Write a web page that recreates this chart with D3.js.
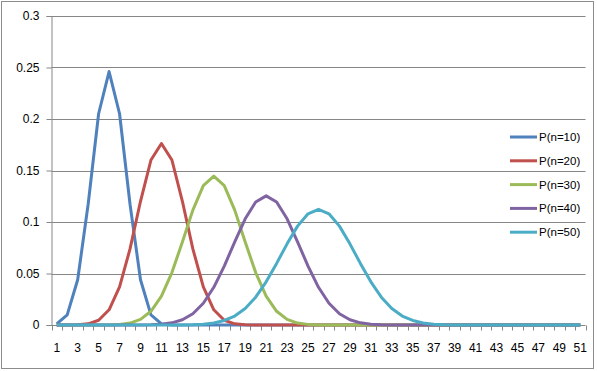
<!DOCTYPE html>
<html>
<head>
<meta charset="utf-8">
<script src="https://cdn.jsdelivr.net/npm/d3@7"></script>
<style>
  body { margin: 0; background: #fff; }
  text { font-family: "Liberation Sans", Arial, sans-serif; font-size: 12px; fill: #000; }
</style>
</head>
<body>
<script>
// categories 1..51
const categories = d3.range(1, 52).map(String);

// series values
const p10 = [0.001, 0.0098, 0.0439, 0.1172, 0.2051, 0.2461, 0.2051, 0.1172, 0.0439, 0.0098, 0.001,
  0, 0, 0, 0, 0, 0, 0, 0, 0, 0, 0, 0, 0, 0, 0, 0, 0, 0, 0, 0, 0, 0, 0, 0, 0, 0, 0, 0, 0, 0,
  0, 0, 0, 0, 0, 0, 0, 0, 0, 0];
const p20 = [0, 0, 0.0002, 0.0011, 0.0046, 0.0148, 0.037, 0.0739, 0.1201, 0.1602, 0.1762,
  0.1602, 0.1201, 0.0739, 0.037, 0.0148, 0.0046, 0.0011, 0.0002, 0, 0,
  0, 0, 0, 0, 0, 0, 0, 0, 0, 0, 0, 0, 0, 0, 0, 0, 0, 0, 0, 0, 0, 0, 0, 0, 0, 0, 0, 0, 0, 0];
const p30 = [0, 0, 0, 0, 0, 0.0001, 0.0006, 0.0019, 0.0055, 0.0133, 0.028, 0.0509, 0.0806, 0.1115, 0.1354,
  0.1445, 0.1354, 0.1115, 0.0806, 0.0509, 0.028, 0.0133, 0.0055, 0.0019, 0.0006, 0.0001, 0, 0, 0, 0, 0,
  0, 0, 0, 0, 0, 0, 0, 0, 0, 0, 0, 0, 0, 0, 0, 0, 0, 0, 0, 0];
const p40 = [0, 0, 0, 0, 0, 0, 0, 0, 0.0001, 0.0002, 0.0008, 0.0021, 0.0051, 0.0109, 0.0211, 0.0366,
  0.0572, 0.0807, 0.1031, 0.1194, 0.1254, 0.1194, 0.1031, 0.0807, 0.0572, 0.0366, 0.0211, 0.0109,
  0.0051, 0.0021, 0.0008, 0.0002, 0.0001, 0, 0, 0, 0, 0, 0, 0, 0,
  0, 0, 0, 0, 0, 0, 0, 0, 0, 0];
const p50 = [0, 0, 0, 0, 0, 0, 0, 0, 0, 0, 0, 0, 0.0001, 0.0003, 0.0008, 0.002, 0.0044, 0.0087, 0.016,
  0.027, 0.0419, 0.0598, 0.0788, 0.096, 0.108, 0.1123, 0.108, 0.096, 0.0788, 0.0598, 0.0419, 0.027,
  0.016, 0.0087, 0.0044, 0.002, 0.0008, 0.0003, 0.0001, 0, 0, 0, 0, 0, 0, 0, 0, 0, 0, 0, 0];

const seriesNames = ["P(n=10)", "P(n=20)", "P(n=30)", "P(n=40)", "P(n=50)"];
const seriesValues = [p10, p20, p30, p40, p50];
const colors = ["#4f81bd", "#c0504d", "#9bbb59", "#8064a2", "#4bacc6"];
const yTicks = [0, 0.05, 0.1, 0.15, 0.2, 0.25, 0.3];

const width = 597, height = 371;
const plot = { left: 51.5, right: 585.5, top: 16, bottom: 325 };

const svg = d3.select("body").append("svg")
    .attr("width", width)
    .attr("height", height);

// outer chart border
svg.append("rect")
    .attr("x", 1.5).attr("y", 1.5)
    .attr("width", 592).attr("height", 367)
    .attr("fill", "#fff")
    .attr("stroke", "#8c8c8c");

const x = d3.scaleBand().domain(categories).range([plot.left, plot.right]);
const y = d3.scaleLinear().domain([0, 0.3]).range([plot.bottom, plot.top]);

// gridlines
svg.append("g").selectAll("line")
    .data(yTicks.slice(1))
    .enter().append("line")
    .attr("x1", plot.left).attr("x2", plot.right)
    .attr("y1", d => Math.round(y(d)) + 0.5).attr("y2", d => Math.round(y(d)) + 0.5)
    .attr("stroke", "#868686");

// y axis
const yAxis = svg.append("g")
    .attr("transform", "translate(" + plot.left + ",0)")
    .call(d3.axisLeft(y).tickValues(yTicks).tickSize(5).tickPadding(7).tickFormat(d => String(+d.toFixed(2))));
yAxis.select(".domain").attr("stroke", "#868686");
yAxis.selectAll(".tick line").attr("stroke", "#868686");
yAxis.selectAll(".tick text").style("font-size", "12px").attr("font-family", null);

// x axis: ticks at category boundaries, labels at odd categories
const xg = svg.append("g").attr("transform", "translate(0," + (plot.bottom + 0.5) + ")");
xg.append("line")
    .attr("x1", plot.left).attr("x2", plot.right)
    .attr("stroke", "#868686");
xg.selectAll(".xtick")
    .data(categories.concat(["end"]))
    .enter().append("line")
    .attr("class", "xtick")
    .attr("x1", (d, i) => Math.round(plot.left + i * x.step()) + 0.5)
    .attr("x2", (d, i) => Math.round(plot.left + i * x.step()) + 0.5)
    .attr("y1", 0).attr("y2", 5)
    .attr("stroke", "#868686");
xg.selectAll(".xlabel")
    .data(categories.filter((d, i) => i % 2 === 0))
    .enter().append("text")
    .attr("class", "xlabel")
    .attr("x", d => x(d) + x.bandwidth() / 2)
    .attr("y", 26)
    .attr("text-anchor", "middle")
    .text(d => d);

// lines
const line = d3.line()
    .x((d, i) => x(categories[i]) + x.bandwidth() / 2)
    .y(d => y(d));

svg.append("g").selectAll("path")
    .data(seriesValues)
    .enter().append("path")
    .attr("d", d => line(d))
    .attr("fill", "none")
    .attr("stroke", (d, i) => colors[i])
    .attr("stroke-width", 3)
    .attr("stroke-linejoin", "round");

// legend
const legend = svg.append("g").selectAll("g")
    .data(seriesNames)
    .enter().append("g")
    .attr("transform", (d, i) => "translate(510," + (137 + i * 23.8) + ")");
legend.append("line")
    .attr("x1", 0).attr("x2", 27)
    .attr("stroke", (d, i) => colors[i])
    .attr("stroke-width", 3);
legend.append("text")
    .attr("x", 29)
    .attr("dy", "0.35em")
    .style("font-size", "11.5px")
    .text(d => d);
</script>
</body>
</html>
